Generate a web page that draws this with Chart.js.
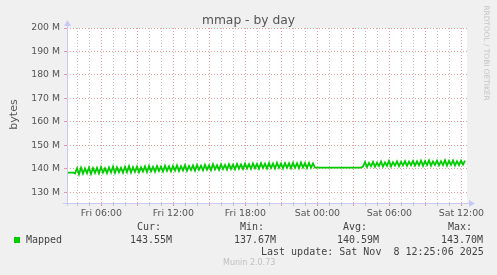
<!DOCTYPE html>
<html>
<head>
<meta charset="utf-8">
<script src="https://cdn.jsdelivr.net/npm/chart.js@4"></script>
<style>
  body { margin: 0; background: #f0f0f0; }
  #wrap { position: relative; width: 497px; height: 275px; overflow: hidden; }
  canvas { position: absolute; left: 0; top: 0; }
  .t { position: absolute; white-space: pre; line-height: 12px; color: #444; }
  .mono { font-family: 'DejaVu Sans Mono', monospace; font-size: 10px; }
</style>
</head>
<body>
<div id="wrap">
  <canvas id="chart" width="497" height="275"></canvas>
  <div class="t" style="left:0;width:497px;top:13px;text-align:center;font:12.3px 'DejaVu Sans';color:#555;line-height:14px;">mmap - by day</div>
  <div class="t" style="left:-9px;top:108px;width:44px;text-align:center;font:11px 'DejaVu Sans';color:#555;transform:rotate(-90deg);">bytes</div>
  <div class="t" style="left:437px;top:49px;width:98px;text-align:center;font:7.4px 'DejaVu Sans';color:#c4c4c4;transform:rotate(90deg);line-height:8px;">RRDTOOL / TOBI OETIKER</div>

  <div class="t" style="left:14px;top:237px;width:6px;height:6px;background:#00cc00;"></div>
  <div class="t mono" style="left:26px;top:234px;">Mapped</div>
  <div class="t mono" style="left:137px;top:221px;">Cur:</div>
  <div class="t mono" style="left:240px;top:221px;">Min:</div>
  <div class="t mono" style="left:343px;top:221px;">Avg:</div>
  <div class="t mono" style="left:448px;top:221px;">Max:</div>
  <div class="t mono" style="left:130px;top:234px;">143.55M</div>
  <div class="t mono" style="left:234px;top:234px;">137.67M</div>
  <div class="t mono" style="left:337px;top:234px;">140.59M</div>
  <div class="t mono" style="left:441px;top:234px;">143.70M</div>
  <div class="t mono" style="left:261px;top:246px;">Last update: Sat Nov  8 12:25:06 2025</div>
  <div class="t" style="left:223px;top:258px;font:8px 'DejaVu Sans';color:#c0c0c0;">Munin 2.0.73</div>
</div>
<script>
// time axis in minutes since Fri 00:00, samples every 10 minutes
const startMin = 188;
const stepMin = 10;
const xMin = 188;
const xMax = 2188;
const yMin = 125.5;
const yMax = 200;

// x ticks: hourly grid, labels every 6 hours
const xTickMinutes = [];
for (let m = 240; m <= 2160; m += 60) xTickMinutes.push(m);
const xLabels = {
    360: 'Fri 06:00', 720: 'Fri 12:00', 1080: 'Fri 18:00',
    1440: 'Sat 00:00', 1800: 'Sat 06:00', 2160: 'Sat 12:00'
};
const yTicks = [130, 135, 140, 145, 150, 155, 160, 165, 170, 175, 180, 185, 190, 195, 200];

// Mapped memory, in M
const mapped = [
    138.4, 138.4, 138.4, 138.4,
    138.1, 140.3, 137.7, 140.5, 138.0, 140.2, 138.2, 140.6, 137.9, 140.4,
    138.3, 140.5, 138.1, 140.8, 138.4, 140.3, 138.2, 140.6, 138.5, 141.0,
    138.3, 140.7, 138.6, 140.5, 138.4, 140.9, 138.7, 141.2, 138.5, 140.8,
    138.8, 141.0, 138.6, 140.7, 138.9, 141.1, 138.7, 141.3, 139.0, 140.9,
    138.8, 141.2, 139.1, 141.0, 138.9, 141.4, 139.2, 141.1, 139.0, 141.3,
    139.3, 141.5, 139.1, 141.2, 139.4, 141.6, 139.2, 141.3, 139.5, 141.5,
    139.3, 141.7, 139.6, 141.4, 139.4, 141.8, 139.7, 141.5, 139.5, 142.0,
    139.8, 141.6, 139.6, 141.9, 139.9, 141.7, 139.7, 142.0, 140.0, 141.8,
    139.8, 142.1, 140.1, 141.9, 139.9, 142.2, 140.2, 142.0, 140.0, 142.3,
    140.3, 142.1, 140.1, 142.4, 140.4, 142.2, 140.2, 142.5, 140.4, 142.3,
    140.2, 142.6, 140.5, 142.3, 140.3, 142.5, 140.5, 142.4, 140.3, 142.6,
    140.5, 142.4, 140.3, 142.7, 140.6, 142.5, 140.4, 142.6, 140.5, 142.4,
    // flat stretch around midnight
    140.6, 140.6, 140.6, 140.6, 140.6, 140.6, 140.6, 140.6, 140.6, 140.6, 140.6, 140.6,
    140.6, 140.6, 140.6, 140.6, 140.6, 140.6, 140.6, 140.6, 140.6, 140.6, 140.6, 140.6,
    141.0, 142.9, 140.8, 142.6, 141.1, 143.0, 140.9, 142.7, 141.2, 143.1,
    141.0, 142.8, 141.3, 143.4, 141.1, 142.9, 141.4, 143.2, 141.2, 143.0,
    141.5, 143.3, 141.3, 143.1, 141.6, 143.4, 141.4, 143.2, 141.5, 143.5,
    141.3, 143.3, 141.6, 143.6, 141.4, 143.2, 141.7, 143.5, 141.5, 143.3,
    141.6, 143.7, 141.4, 143.4, 141.7, 143.6, 141.5, 143.3, 141.6, 143.5,
    141.8, 143.55
];

const points = mapped.map((v, i) => ({ x: startMin + i * stepMin, y: v }));

const gridGrey = 'rgba(185,185,185,0.85)';
const gridRed = 'rgba(230,130,130,0.8)';
const axisColor = '#c8c8f6';

// white plot area + rrdtool style axes with arrows
const rrdFrame = {
    id: 'rrdFrame',
    beforeDraw(chart) {
        const a = chart.chartArea, c = chart.ctx;
        c.save();
        c.fillStyle = '#ffffff';
        c.fillRect(a.left, a.top, a.right - a.left, a.bottom - a.top);
        c.restore();
    },
    afterDraw(chart) {
        const a = chart.chartArea, c = chart.ctx;
        c.save();
        c.strokeStyle = axisColor;
        c.fillStyle = axisColor;
        c.lineWidth = 1;
        c.beginPath();
        c.moveTo(a.left - 4, a.bottom + 0.5);
        c.lineTo(a.right + 5, a.bottom + 0.5);
        c.moveTo(a.left + 0.5, a.bottom + 3);
        c.lineTo(a.left + 0.5, a.top - 4);
        c.stroke();
        c.beginPath();
        c.moveTo(a.right + 2, a.bottom - 3);
        c.lineTo(a.right + 8, a.bottom + 0.5);
        c.lineTo(a.right + 2, a.bottom + 4);
        c.closePath();
        c.fill();
        c.beginPath();
        c.moveTo(a.left - 3, a.top - 2);
        c.lineTo(a.left + 0.5, a.top - 8);
        c.lineTo(a.left + 4, a.top - 2);
        c.closePath();
        c.fill();
        c.restore();
    }
};

new Chart(document.getElementById('chart'), {
    type: 'line',
    data: {
        datasets: [{
            label: 'Mapped',
            data: points,
            borderColor: '#00cc00',
            borderWidth: 1.8,
            pointRadius: 0,
            tension: 0,
            fill: false
        }]
    },
    options: {
        responsive: false,
        animation: false,
        layout: { padding: { left: 0, top: 28, right: 30, bottom: 52 } },
        plugins: { legend: { display: false }, tooltip: { enabled: false } },
        scales: {
            x: {
                type: 'linear',
                min: xMin,
                max: xMax,
                afterBuildTicks: s => { s.ticks = xTickMinutes.map(v => ({ value: v })); },
                afterFit: s => { s.height = 20; },
                border: { display: false, dash: [1, 2] },
                grid: {
                    color: ctx => (ctx.tick && ctx.tick.value % 180 === 0) ? gridRed : gridGrey,
                    tickColor: ctx => (ctx.tick && ctx.tick.value % 180 === 0) ? gridRed : gridGrey,
                    tickLength: 3,
                    drawTicks: true
                },
                ticks: {
                    autoSkip: false,
                    maxRotation: 0,
                    padding: 2,
                    color: '#555',
                    font: { family: 'DejaVu Sans', size: 9.4 },
                    callback: v => xLabels[v] || ''
                }
            },
            y: {
                min: yMin,
                max: yMax,
                afterBuildTicks: s => { s.ticks = yTicks.map(v => ({ value: v })); },
                afterFit: s => { s.width = 67; },
                border: { display: false, dash: [1, 2] },
                grid: {
                    color: ctx => (ctx.tick && ctx.tick.value % 10 === 0) ? gridRed : gridGrey,
                    tickColor: ctx => (ctx.tick && ctx.tick.value % 10 === 0) ? gridRed : gridGrey,
                    tickLength: 3,
                    drawTicks: true
                },
                ticks: {
                    padding: 4,
                    color: '#555',
                    font: { family: 'DejaVu Sans', size: 9.3 },
                    callback: v => (v % 10 === 0) ? v + ' M' : ''
                }
            }
        }
    },
    plugins: [rrdFrame]
});
</script>
</body>
</html>
